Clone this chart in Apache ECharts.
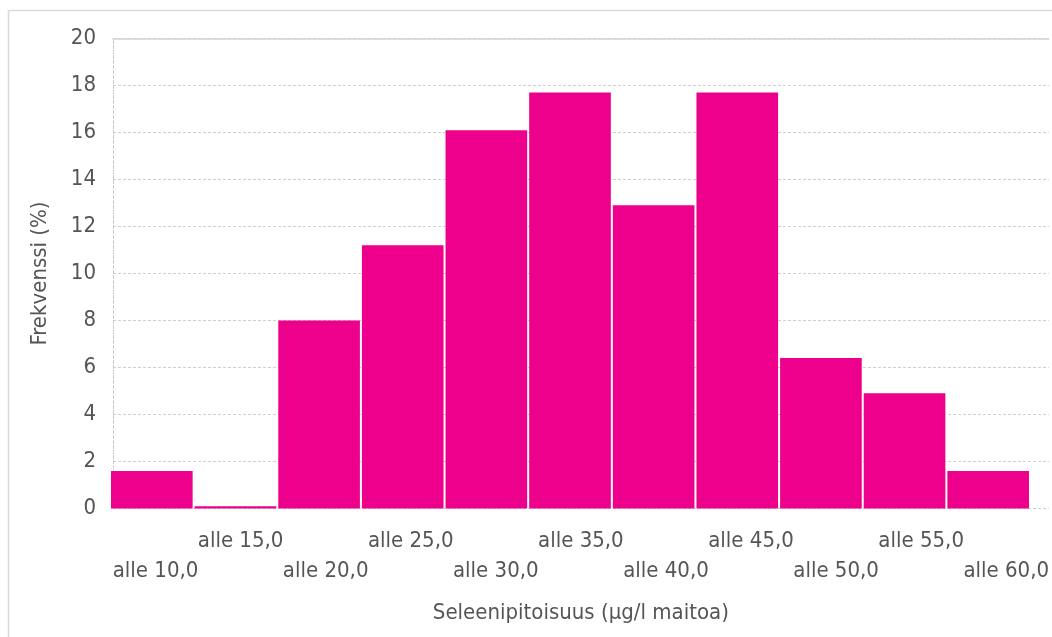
<!DOCTYPE html>
<html>
<head>
<meta charset="utf-8">
<script src="https://cdn.jsdelivr.net/npm/echarts@6/dist/echarts.min.js"></script>
<style>
html,body{margin:0;padding:0;background:#fff;}
#chart{width:1052px;height:637px;}
</style>
</head>
<body>
<div id="chart"></div>
<script>
var categories = ['alle 10,0','alle 15,0','alle 20,0','alle 25,0','alle 30,0','alle 35,0','alle 40,0','alle 45,0','alle 50,0','alle 55,0','alle 60,0'];
var frequencies = [1.6, 0.1, 8.0, 11.2, 16.1, 17.7, 12.9, 17.7, 6.4, 4.9, 1.6];
var yMin = 0, yMax = 20, yStep = 2;
var xTitle = 'Seleenipitoisuus (µg/l maitoa)';
var yTitle = 'Frekvenssi (%)';

var FONT = 'DejaVu Sans Condensed';
var TXT = '#555555';
var chart = echarts.init(document.getElementById('chart'), null, {renderer:'canvas'});
var option = {
  animation:false,
  backgroundColor:'#fff',
  graphic:[{
    type:'rect', silent:true, z:-10,
    shape:{x:8.5, y:10.5, width:1200, height:800},
    style:{fill:'none', stroke:'#d9d9d9', lineWidth:1.5}
  }],
  grid:[
    {left:110, top:38.5, width:920, height:470},
    {left:113, top:38.5, width:937, height:470}
  ],
  xAxis:[
    {gridIndex:0, type:'category', data:categories, show:false},
    {gridIndex:1, type:'category', data:categories,
     axisLine:{show:false}, axisTick:{show:false}, splitLine:{show:false},
     axisLabel:{interval:0, hideOverlap:false, margin:18, color:TXT, fontFamily:FONT, fontSize:22,
       formatter:function(v, i){ return i % 2 === 0 ? '{e| }\n{a|' + v + '}' : '{a|' + v + '}'; },
       rich:{a:{fontFamily:FONT, fontSize:22, color:TXT, lineHeight:30}, e:{fontFamily:FONT, fontSize:22, lineHeight:30}}
     },
     name:xTitle, nameLocation:'middle', nameGap:94,
     nameTextStyle:{color:TXT, fontFamily:FONT, fontSize:22}
    },
    {gridIndex:1, type:'category', data:categories, position:'top',
     axisLine:{show:true, lineStyle:{color:'#d4d4d4', width:1.5}}, axisTick:{show:false}, axisLabel:{show:false}, splitLine:{show:false}}
  ],
  yAxis:[
    {gridIndex:0, type:'value', min:yMin, max:yMax, interval:yStep, show:false},
    {gridIndex:1, type:'value', min:yMin, max:yMax, interval:yStep,
     axisLine:{show:true, lineStyle:{color:'#c8c8c8', type:[3,2], width:1}},
     axisTick:{show:false},
     axisLabel:{margin:17, color:TXT, fontFamily:FONT, fontSize:22},
     splitLine:{show:true, lineStyle:{color:'#cfcfcf', type:[3,2], width:1}},
     name:yTitle, nameLocation:'middle', nameGap:62, nameRotate:90,
     nameTextStyle:{color:TXT, fontFamily:FONT, fontSize:22}
    }
  ],
  series:[{
    type:'bar', xAxisIndex:0, yAxisIndex:0, data:frequencies,
    barCategoryGap:'2.4%',
    itemStyle:{color:'#EC008C'}
  }]
};
chart.setOption(option);
</script>
</body>
</html>
